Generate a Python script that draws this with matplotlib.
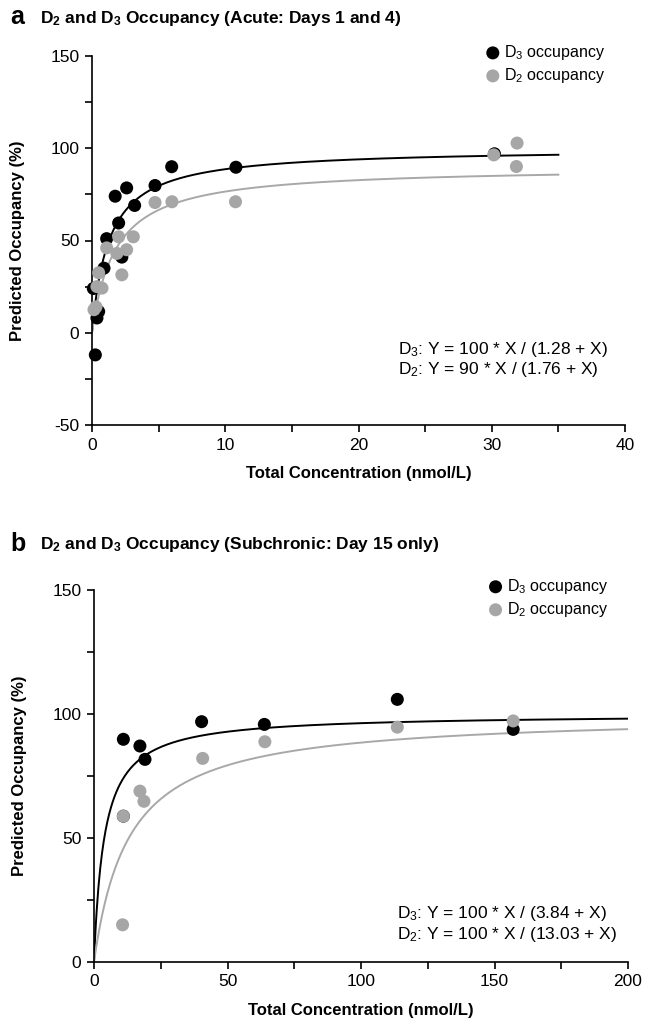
import numpy as np
import matplotlib
matplotlib.use("Agg")
import matplotlib.pyplot as plt
from matplotlib.ticker import MultipleLocator

plt.rcParams['font.family'] = ['Liberation Sans', 'DejaVu Sans']
plt.rcParams['mathtext.fontset'] = 'custom'
plt.rcParams['mathtext.rm'] = 'Liberation Sans'
plt.rcParams['mathtext.it'] = 'Liberation Sans:italic'
plt.rcParams['mathtext.bf'] = 'Liberation Sans:bold'
plt.rcParams['axes.unicode_minus'] = False

# ---------------- Data: panel a (Acute: Days 1 and 4) ----------------
a_d3_x = [0.25, 0.37, 0.5, 0.1, 0.9, 1.1, 1.74, 2.0, 2.24, 2.6, 3.2, 4.73, 5.98, 10.8, 30.2]
a_d3_y = [-12, 8, 11.5, 24, 35, 51, 74, 59.5, 41, 78.5, 69, 79.8, 90, 89.7, 97]
a_d2_x = [0.15, 0.3, 0.37, 0.5, 0.75, 1.1, 1.87, 2.0, 2.24, 2.6, 3.1, 4.73, 6.0, 10.77, 30.15, 31.9, 31.85]
a_d2_y = [12.5, 14, 25, 32.5, 24.2, 46, 43, 52, 31.4, 45, 52, 70.6, 71, 71, 96.4, 102.8, 90.1]
a_d3_bmax, a_d3_kd = 100, 1.28
a_d2_bmax, a_d2_kd = 90, 1.76
a_fit_xmax = 35

# ---------------- Data: panel b (Subchronic: Day 15 only) ----------------
b_d3_x = [11.0, 17.2, 19.1, 11.0, 40.3, 63.8, 113.6, 157.0]
b_d3_y = [89.8, 87.1, 81.7, 58.8, 96.9, 95.8, 105.9, 93.8]
b_d2_x = [17.2, 18.7, 11.0, 10.7, 40.7, 64.0, 113.6, 157.0]
b_d2_y = [68.9, 64.8, 58.8, 15.0, 82.1, 88.8, 94.7, 97.2]
b_d3_bmax, b_d3_kd = 100, 3.84
b_d2_bmax, b_d2_kd = 100, 13.03
b_fit_xmax = 200

BLACK = '#000000'
GRAY = '#a6a6a6'

fig = plt.figure(figsize=(6.46, 10.28), dpi=100)
W, H = 646, 1028

def px_axes(l, r, t, b):
    return [l / W, 1 - b / H, (r - l) / W, (b - t) / H]

ax_a = fig.add_axes(px_axes(92, 625, 56, 425))
ax_b = fig.add_axes(px_axes(94, 628, 590, 962))

MS = 88

def style(ax, xlim, ylim, xmaj, xmin, ymaj, ymin):
    ax.set_xlim(*xlim)
    ax.set_ylim(*ylim)
    for s in ['top', 'right']:
        ax.spines[s].set_visible(False)
    for s in ['left', 'bottom']:
        ax.spines[s].set_linewidth(1.2)
    ax.xaxis.set_major_locator(MultipleLocator(xmaj))
    ax.xaxis.set_minor_locator(MultipleLocator(xmin))
    ax.yaxis.set_major_locator(MultipleLocator(ymaj))
    ax.yaxis.set_minor_locator(MultipleLocator(ymin))
    ax.tick_params(which='both', direction='out', length=5, width=1.2,
                   labelsize=12.5, pad=4)
    ax.set_ylabel('Predicted Occupancy (%)', fontsize=12, fontweight='bold', labelpad=18)
    ax.set_xlabel('Total Concentration (nmol/L)', fontsize=12, fontweight='bold', labelpad=10)

def panel(ax, d3x, d3y, d2x, d2y, d3p, d2p, xmax):
    xf = np.linspace(0, xmax, 600)
    ax.plot(xf, d3p[0] * xf / (d3p[1] + xf), color=BLACK, lw=1.4, zorder=2)
    ax.plot(xf, d2p[0] * xf / (d2p[1] + xf), color='#a8a8a8', lw=1.4, zorder=2)
    h3 = ax.scatter(d3x, d3y, s=MS, color=BLACK, edgecolors='none', zorder=3,
                    clip_on=False, label=r'D$_3$ occupancy')
    h2 = ax.scatter(d2x, d2y, s=MS, color=GRAY, edgecolors='none', zorder=4,
                    clip_on=False, label=r'D$_2$ occupancy')
    return h3, h2

FS = 12.5

# Panel a
style(ax_a, (0, 40), (-50, 150), 10, 5, 50, 25)
h3, h2 = panel(ax_a, a_d3_x, a_d3_y, a_d2_x, a_d2_y,
               (a_d3_bmax, a_d3_kd), (a_d2_bmax, a_d2_kd), a_fit_xmax)
ax_a.legend(handles=[h3, h2], loc='upper left', bbox_to_anchor=(0.74, 1.035),
            frameon=False, fontsize=11.5, handlelength=0.8, handletextpad=0.3,
            labelspacing=0.25, borderpad=0, borderaxespad=0, scatterpoints=1)
ax_a.text(0.575, 0.205, r'D$_3$: Y = %d * X / (%.2f + X)' % (a_d3_bmax, a_d3_kd),
          transform=ax_a.transAxes, fontsize=FS, va='center', ha='left')
ax_a.text(0.575, 0.15, r'D$_2$: Y = %d * X / (%.2f + X)' % (a_d2_bmax, a_d2_kd),
          transform=ax_a.transAxes, fontsize=FS, va='center', ha='left')

# Panel b
style(ax_b, (0, 200), (0, 150), 50, 25, 50, 25)
h3, h2 = panel(ax_b, b_d3_x, b_d3_y, b_d2_x, b_d2_y,
               (b_d3_bmax, b_d3_kd), (b_d2_bmax, b_d2_kd), b_fit_xmax)
ax_b.legend(handles=[h3, h2], loc='upper left', bbox_to_anchor=(0.74, 1.035),
            frameon=False, fontsize=11.5, handlelength=0.8, handletextpad=0.3,
            labelspacing=0.25, borderpad=0, borderaxespad=0, scatterpoints=1)
ax_b.text(0.567, 0.13, r'D$_3$: Y = %d * X / (%.2f + X)' % (b_d3_bmax, b_d3_kd),
          transform=ax_b.transAxes, fontsize=FS, va='center', ha='left')
ax_b.text(0.567, 0.075, r'D$_2$: Y = %d * X / (%.2f + X)' % (b_d2_bmax, b_d2_kd),
          transform=ax_b.transAxes, fontsize=FS, va='center', ha='left')

# Titles
fig.text(10 / W, 1 - 17 / H, 'a', fontsize=18, fontweight='bold', va='center', ha='left')
fig.text(40 / W, 1 - 18 / H, r'$\mathbf{D_2}$ and $\mathbf{D_3}$ Occupancy (Acute: Days 1 and 4)',
         fontsize=12.5, fontweight='bold', va='center', ha='left')
fig.text(10 / W, 1 - 544 / H, 'b', fontsize=18, fontweight='bold', va='center', ha='left')
fig.text(40 / W, 1 - 545 / H, r'$\mathbf{D_2}$ and $\mathbf{D_3}$ Occupancy (Subchronic: Day 15 only)',
         fontsize=12.5, fontweight='bold', va='center', ha='left')

fig.savefig('out.png', dpi=100)
